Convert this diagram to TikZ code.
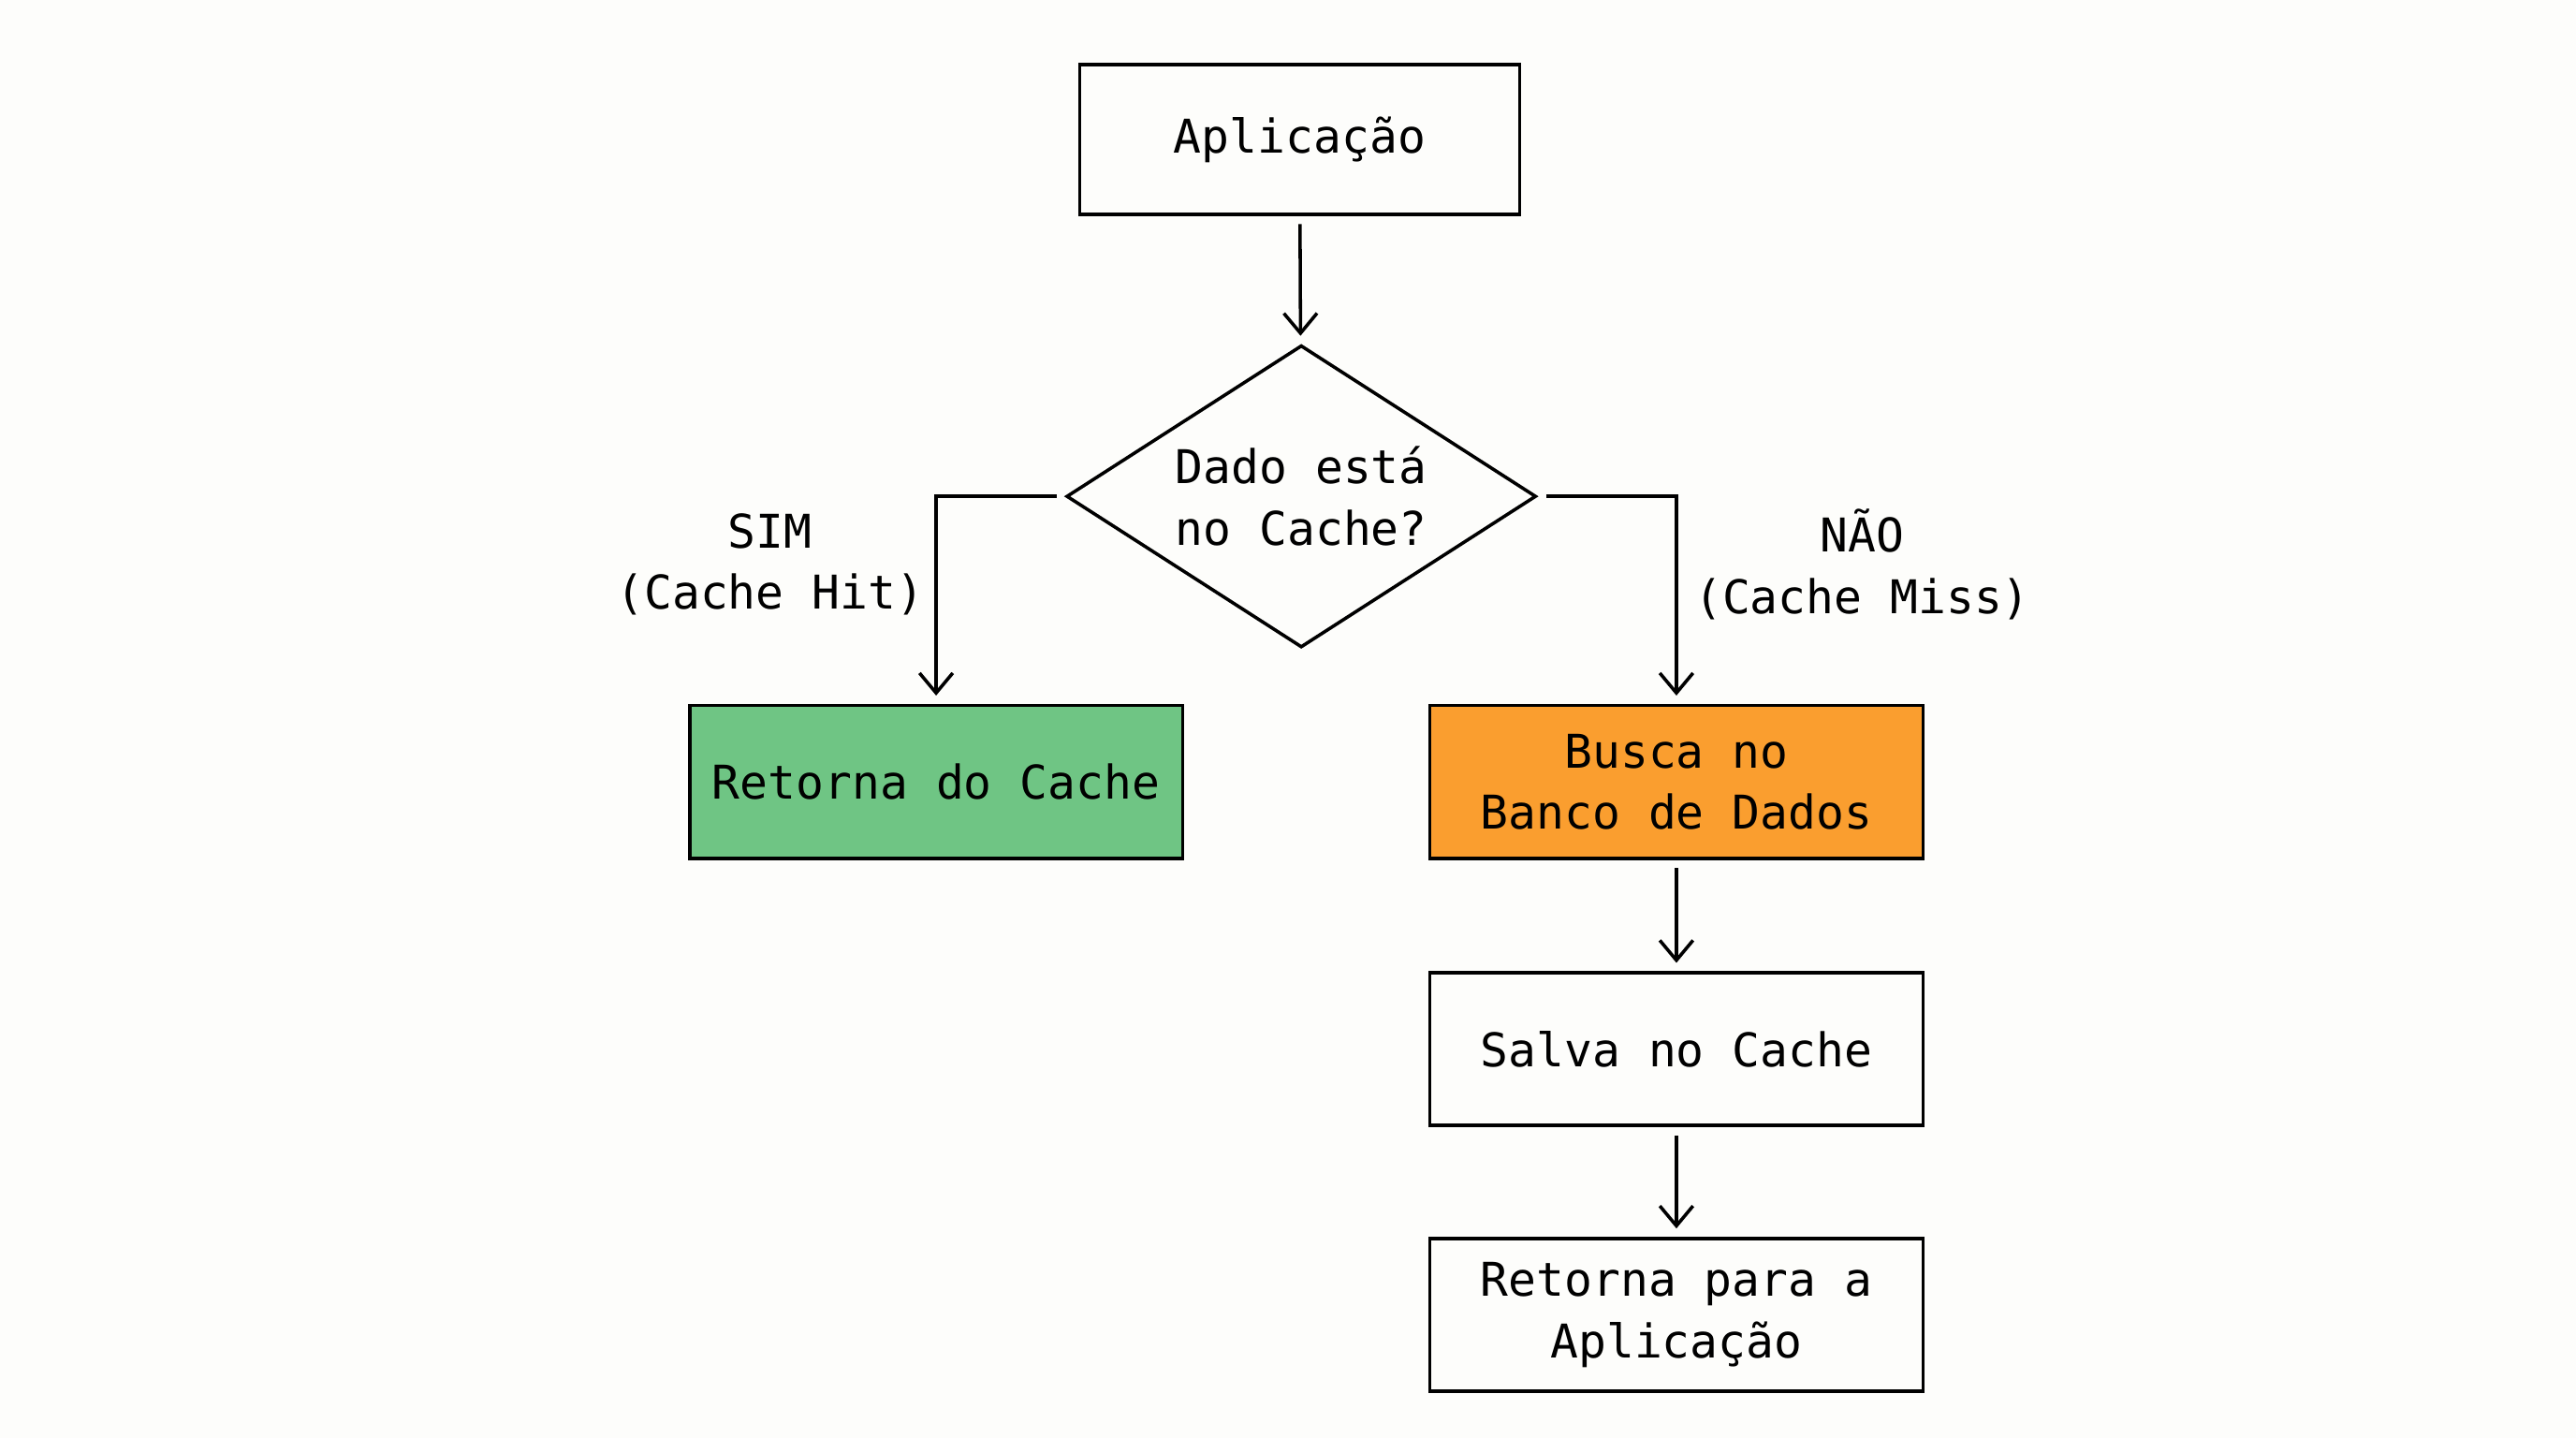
\documentclass[tikz,border=0pt]{standalone}
\usepackage{fontspec}
\setmonofont{DejaVu Sans Mono}
\usetikzlibrary{shapes.geometric,arrows.meta}
\definecolor{bgc}{RGB}{253,253,251}
\definecolor{hitgreen}{RGB}{111,197,132}
\definecolor{missorange}{RGB}{250,158,47}
\tikzset{every picture/.style={line width=2pt}}
\tikzset{
  box/.style={draw, rectangle, minimum width=297, minimum height=92, inner sep=2pt, align=center,
    font=\ttfamily\fontsize{28}{37}\selectfont},
  decision/.style={draw, diamond, aspect=1.56, minimum width=283, minimum height=182, inner sep=0pt, align=center,
    font=\ttfamily\fontsize{28}{37}\selectfont},
  lbl/.style={align=center, font=\ttfamily\fontsize{28}{37}\selectfont},
  flow/.style={-{Straight Barb[length=12pt,width=20pt]}, shorten >=5pt, shorten <=5pt},
}

\begin{document}
\begin{tikzpicture}[x=1pt,y=1pt,yscale=-1]
\fill[bgc] (0,0) rectangle (1552,866);
\useasboundingbox (0,0) rectangle (1552,866);

% nodes
\node[box, minimum width=265, minimum height=90] (app) at (783,84) {Aplicação};
\node[decision] (check) at (784,299) {Dado está\\no Cache?};
\node[box, fill=hitgreen] (hit) at (564,471) {Retorna do Cache};
\node[box, fill=missorange] (db) at (1010,471) {Busca no\\Banco de Dados};
\node[box] (save) at (1010,632) {Salva no Cache};
\node[box] (back) at (1010,792) {Retorna para a\\Aplicação};

% labels
\node[lbl] (yes) at (464,340) {SIM\\(Cache Hit)};
\node[lbl] (no) at (1122,340) {NÃO\\(Cache Miss)};

% connectors
\draw[flow] (app) -- (check);
\draw[flow] (check.west) -| (hit.north);
\draw[flow] (check.east) -| (db.north);
\draw[flow] (db) -- (save);
\draw[flow] (save) -- (back);
\end{tikzpicture}
\end{document}
